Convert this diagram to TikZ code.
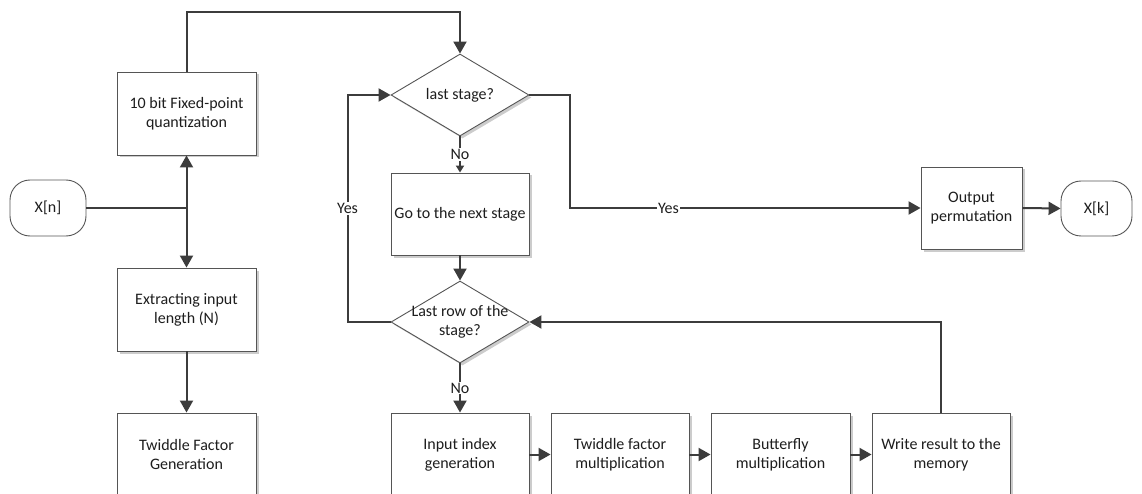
\documentclass[tikz,border=0pt]{standalone}
\usepackage{fontspec}
\setmainfont{Carlito}
\usetikzlibrary{shapes.geometric,arrows.meta,shadows}
\definecolor{wire}{HTML}{3C3C3C}
\definecolor{rim}{HTML}{555555}
\definecolor{ink}{HTML}{1E1E1E}

\begin{document}
\begin{tikzpicture}[x=1pt,y=-1pt,
  font=\fontsize{16}{19}\selectfont, text=ink,
  boxshadow/.style={drop shadow={shadow xshift=2.5pt,shadow yshift=-2.5pt,opacity=0.2,fill=black}},
  proc/.style={draw=rim,line width=0.9pt,fill=white,align=center,
    minimum width=139pt,minimum height=83pt,inner sep=2pt,boxshadow},
  term/.style={draw=rim,line width=0.9pt,fill=white,rounded corners=20pt,
    minimum width=76pt,minimum height=56pt,inner sep=2pt},
  decision/.style={diamond,draw=rim,line width=0.9pt,fill=white,inner sep=0pt,
    minimum width=138pt,minimum height=82pt,boxshadow},
  conn/.style={draw=wire,line width=2pt,-{Triangle[length=12pt,width=13pt]}},
  plain/.style={draw=wire,line width=2pt},
  tag/.style={fill=white,inner sep=1pt,text=ink}
]
\useasboundingbox (0,0) rectangle (1142,494);

% terminals
\node[term] (xn) at (48,208) {X[n]};
\node[term,minimum width=71pt,minimum height=55pt] (xk) at (1096.5,208.5) {X[k]};

% preprocessing column
\node[proc] (quant) at (186.5,113.5) {10 bit Fixed-point\\quantization};
\node[proc] (extract) at (186.5,309.5) {Extracting input\\length (N)};
\node[proc] (twgen) at (186.5,454.5) {Twiddle Factor\\Generation};

% stage loop
\node[decision,label={[align=center,text=ink]center:last stage?}] (last) at (460,95) {};
\node[proc,minimum width=138pt,minimum height=82pt] (next) at (460,214) {Go to the next stage};
\node[decision,label={[align=center,text=ink]center:Last row of the\\stage?}] (row) at (460,322) {};

% butterfly row
\node[proc,minimum width=138pt] (index) at (460,454.5) {Input index\\generation};
\node[proc,minimum width=138pt] (twmul) at (620,454.5) {Twiddle factor\\multiplication};
\node[proc,minimum width=139pt] (bfly) at (780.5,454.5) {Butterfly\\multiplication};
\node[proc,minimum width=138pt] (write) at (941,454.5) {Write result to the\\memory};

% output
\node[proc,minimum width=101pt,minimum height=82pt] (perm) at (971.5,208) {Output\\permutation};

% input fan-out
\coordinate (split) at (186.5,208);
\draw[plain] (xn.east) -- (split);
\draw[conn] (split) -- (quant.south);
\draw[conn] (split) -- (extract.north);
\draw[conn] (extract.south) -- (twgen.north);

% quantized data into the stage test
\coordinate (over) at (460,12);
\draw[conn] (quant.north) |- (over) -- (last.north);

% decisions
\draw[draw=wire,line width=2pt,-{Triangle[length=7pt,width=8pt]}] (last.south) -- node[tag]{No} (next.north);
\draw[conn] (next.south) -- (row.north);
\draw[conn] (row.south) -- node[tag]{No} (index.north);
\draw[conn] (row.west) -- ++(-43,0) |- node[tag,pos=0.25]{Yes} (last.west);
\draw[conn] (last.east) -- ++(41,0) |- node[tag,pos=0.64]{Yes} (perm.west);
\draw[conn] (perm.east) -- (xk.west);

% butterfly chain and feedback
\draw[conn] (index.east) -- (twmul.west);
\draw[conn] (twmul.east) -- (bfly.west);
\draw[conn] (bfly.east) -- (write.west);
\draw[conn] (write.north) |- (row.east);
\end{tikzpicture}
\end{document}
